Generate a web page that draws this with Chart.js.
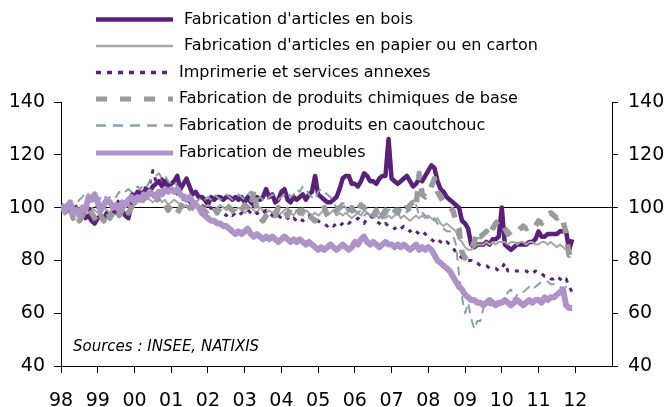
<!DOCTYPE html>
<html>
<head>
<meta charset="utf-8">
<script src="https://cdn.jsdelivr.net/npm/chart.js@4.4.1/dist/chart.umd.min.js"></script>
<style>
  html, body { margin: 0; padding: 0; background: #ffffff; }
  #wrap { width: 666px; height: 407px; position: relative; }
</style>
</head>
<body>
<div id="wrap"><canvas id="c" width="666" height="407"></canvas></div>
<script>
// ---- Data (monthly, Jan 1998 .. Dec 2011) ----
const yearLabels = ['98','99','00','01','02','03','04','05','06','07','08','09','10','11','12'];

const seriesNames = [
  "Fabrication d'articles en bois",
  "Fabrication d'articles en papier ou en carton",
  "Imprimerie et services annexes",
  "Fabrication de produits chimiques de base",
  "Fabrication de produits en caoutchouc",
  "Fabrication de meubles"
];

const bois = [
  101,100,99,100,98,99,97,98,96,97,95,94,
  96,97,96,98,97,99,98,98,99,97,96,101,
  104,106,105,106,107,106,108,109,110,108,110,108,
  109,110,112,107,109,111,108,105,106,104,104,103,
  101,104,103,104,104,103,104,104,103,104,103,104,
  102,104,102,101,104,103,104,107,104,105,102,103,
  106,107,103,102,104,103,104,105,103,105,106,112,
  105,104,103,102,102,103,104,107,111,112,112,109,
  109,108,110,113,112,110,110,109,111,112,112,126,
  111,110,109,110,111,112,110,108,109,111,110,112,
  114,116,115,110,107,106,104,103,102,101,100,95,
  94,92,86,85,86,86,86,87,86,88,88,89,
  100,86,85,84,85,86,86,86,86,87,87,88,
  91,89,89,90,90,90,90,91,91,91,84,88
];

const papier = [
  100,101,100,99,100,101,99,100,98,99,100,99,
  98,99,100,99,98,100,101,100,99,100,101,100,
  101,102,103,102,104,103,102,103,104,102,103,101,
  102,103,102,101,100,101,100,99,101,100,99,100,
  101,100,99,100,101,100,99,100,98,99,100,99,
  98,99,100,99,98,100,99,98,99,98,99,97,
  98,99,100,98,97,99,98,97,99,98,97,98,
  97,98,99,97,98,99,97,98,97,98,97,96,
  97,98,97,99,98,97,96,97,98,97,96,97,
  96,97,98,96,97,96,95,96,97,96,97,96,
  97,96,95,96,94,93,94,93,92,91,88,87,
  85,84,84,85,86,86,86,87,86,87,86,87,
  87,87,86,87,87,86,87,87,86,87,87,86,
  86,87,87,86,87,86,85,86,85,84,83,83
];

const imprimerie = [
  100,101,99,100,101,100,99,100,101,99,100,101,
  100,101,102,101,100,102,103,102,103,102,104,105,
  106,105,107,108,107,109,114,110,110,111,109,108,
  107,106,105,104,103,104,102,101,102,100,101,100,
  99,100,99,98,99,98,97,98,97,98,97,98,
  98,99,98,97,98,97,98,99,98,97,96,97,
  96,97,96,95,96,95,96,95,96,97,96,95,
  95,94,94,93,94,93,94,93,94,95,94,95,
  95,96,95,94,96,97,96,95,94,93,94,93,
  93,92,93,92,93,92,91,92,91,90,91,90,
  89,88,87,88,87,86,87,86,85,83,82,81,
  80,80,80,79,79,78,78,78,77,77,77,76,
  77,79,76,76,76,76,76,76,76,75,75,76,
  75,75,74,74,73,73,74,73,72,73,70,68
];

const chimiques = [
  101,99,97,100,96,98,95,97,99,100,98,96,
  94,97,95,99,96,98,100,97,99,101,98,100,
  102,101,103,104,102,103,104,105,102,100,101,99,
  101,100,98,100,102,99,100,101,99,101,100,98,
  99,101,100,98,100,99,101,100,99,98,100,99,
  101,100,99,107,99,96,95,97,99,98,97,100,
  98,99,97,100,101,100,98,99,100,97,96,95,
  98,99,100,97,96,98,99,100,101,99,98,100,
  97,99,101,100,98,96,97,99,95,97,99,98,
  100,99,98,101,100,99,101,102,100,113,105,104,
  105,108,111,106,104,102,101,100,99,95,92,83,
  81,83,84,87,91,89,90,91,89,92,94,95,
  95,92,90,91,92,91,92,93,92,93,94,93,
  95,94,96,97,98,97,96,97,95,90,82,83
];

const caoutchouc = [
  101,100,102,101,99,101,103,104,106,105,103,104,
  102,104,105,103,104,105,104,106,105,106,107,106,
  107,108,107,109,108,110,111,112,113,111,112,110,
  109,110,108,107,106,104,103,104,102,103,104,103,
  104,103,105,104,103,104,105,104,103,104,105,104,
  103,105,106,104,103,104,103,102,104,105,104,103,
  104,105,106,104,105,107,106,108,107,105,104,103,
  106,107,106,105,104,102,100,99,101,100,98,99,
  99,98,99,97,98,97,98,97,96,98,97,99,
  100,98,99,100,101,100,99,100,101,97,98,97,
  96,95,96,94,93,92,91,91,90,86,75,66,
  60,64,58,54,57,57,62,65,63,63,64,63,
  64,66,68,69,65,67,67,68,69,70,69,70,
  71,72,72,72,71,71,70,70,69,70,69,69
];

const meubles = [
  101,99,100,102,98,99,97,100,99,104,103,105,
  102,99,101,103,102,100,101,99,102,101,103,104,
  102,104,103,105,104,106,105,104,106,105,107,106,
  107,106,107,105,104,103,104,102,101,100,98,97,
  96,95,95,94,94,93,93,92,91,90,91,90,
  91,92,90,89,90,89,88,89,88,89,88,87,
  88,89,88,87,88,87,88,87,86,87,86,85,
  84,85,84,85,86,85,84,85,86,85,84,85,
  87,86,88,89,87,86,87,86,85,86,87,86,
  86,85,86,85,86,85,84,85,86,84,85,84,
  85,84,82,80,79,78,77,76,74,72,70,69,
  67,66,65,65,64,64,63,64,65,64,63,64,
  64,65,64,63,64,65,64,63,64,65,64,65,
  65,64,66,65,66,66,67,68,69,63,62,62
];

const sourceText = 'Sources : INSEE, NATIXIS';

// ---- Styles ----
const styles = [
  { color: '#5b2179', width: 4.5, dash: [],      lw: 4.5, ldash: [] },
  { color: '#a6a6a6', width: 2,   dash: [],      lw: 2.5, ldash: [] },
  { color: '#5b2179', width: 3,   dash: [4, 6],  lw: 3.5, ldash: [5, 6] },
  { color: '#9a9a9a', width: 5.5, dash: [11, 11],lw: 5,   ldash: [11, 13] },
  { color: '#86a1af', width: 2,   dash: [9, 6],  lw: 2.5, ldash: [10, 7] },
  { color: '#ad93c7', width: 6,   dash: [],      lw: 5,   ldash: [] }
];

const allSeries = [bois, papier, imprimerie, chimiques, caoutchouc, meubles];

const datasets = allSeries.map((arr, k) => ({
  label: seriesNames[k],
  data: arr.map((v, i) => ({ x: i, y: v })),
  borderColor: styles[k].color,
  backgroundColor: styles[k].color,
  borderWidth: styles[k].width,
  borderDash: styles[k].dash,
  borderCapStyle: 'butt',
  borderJoinStyle: 'round',
  pointRadius: 0,
  tension: 0,
  fill: false,
  yAxisID: 'y',
  order: allSeries.length - 1 - k
}));

const FONT = "'DejaVu Sans', 'Liberation Sans', Arial, sans-serif";

const legendPlugin = {
  id: 'customLegend',
  afterDraw(chart) {
    const ctx = chart.ctx;
    ctx.save();
    const rowY = [19.5, 46, 72.5, 99, 125.5, 153];
    const textX = [184, 184, 179, 179, 179, 179];
    for (let k = 0; k < seriesNames.length; k++) {
      const y = rowY[k];
      ctx.beginPath();
      ctx.strokeStyle = styles[k].color;
      ctx.lineWidth = styles[k].lw;
      ctx.setLineDash(styles[k].ldash);
      ctx.lineCap = 'butt';
      ctx.moveTo(96, y);
      ctx.lineTo(173, y);
      ctx.stroke();
      ctx.setLineDash([]);
      ctx.fillStyle = '#000000';
      ctx.font = '16px ' + FONT;
      ctx.textBaseline = 'middle';
      ctx.textAlign = 'left';
      ctx.fillText(seriesNames[k], textX[k], y);
    }
    ctx.font = 'italic 15px ' + FONT;
    ctx.fillStyle = '#000000';
    ctx.textBaseline = 'middle';
    ctx.fillText(sourceText, 73, 347);
    ctx.restore();
  }
};

const tickFont = { family: FONT, size: 19 };

new Chart(document.getElementById('c'), {
  type: 'line',
  data: { datasets },
  options: {
    responsive: false,
    animation: false,
    events: [],
    layout: { padding: { top: 102, left: 0, right: 0, bottom: 0 } },
    plugins: { legend: { display: false }, tooltip: { enabled: false }, title: { display: false } },
    scales: {
      x: {
        type: 'linear',
        min: 0,
        max: 180,
        afterBuildTicks(axis) {
          axis.ticks = yearLabels.map((_, i) => ({ value: i * 12 }));
        },
        afterFit(axis) { axis.height = 41; },
        ticks: {
          autoSkip: false,
          maxRotation: 0,
          minRotation: 0,
          padding: 17,
          color: '#000000',
          font: tickFont,
          callback: (v) => yearLabels[Math.round(v / 12)]
        },
        grid: { drawOnChartArea: false, drawTicks: true, tickLength: 7, color: '#000000', tickColor: '#000000' },
        border: { display: true, color: '#000000', width: 1 }
      },
      y: {
        position: 'left',
        min: 40,
        max: 140,
        afterFit(axis) { axis.width = 61; },
        ticks: { stepSize: 20, padding: 9, color: '#000000', font: tickFont },
        grid: {
          drawOnChartArea: true,
          drawTicks: true,
          tickLength: 7,
          color: (c) => (c.tick && c.tick.value === 100 ? '#000000' : 'rgba(0,0,0,0)'),
          tickColor: '#000000',
          lineWidth: 1
        },
        border: { display: true, color: '#000000', width: 1 }
      },
      y2: {
        position: 'right',
        min: 40,
        max: 140,
        afterFit(axis) { axis.width = 54; },
        ticks: { stepSize: 20, padding: 10, color: '#000000', font: tickFont },
        grid: { drawOnChartArea: false, drawTicks: true, tickLength: 6, color: '#000000', tickColor: '#000000' },
        border: { display: true, color: '#000000', width: 1 }
      }
    }
  },
  plugins: [legendPlugin]
});
</script>
</body>
</html>
